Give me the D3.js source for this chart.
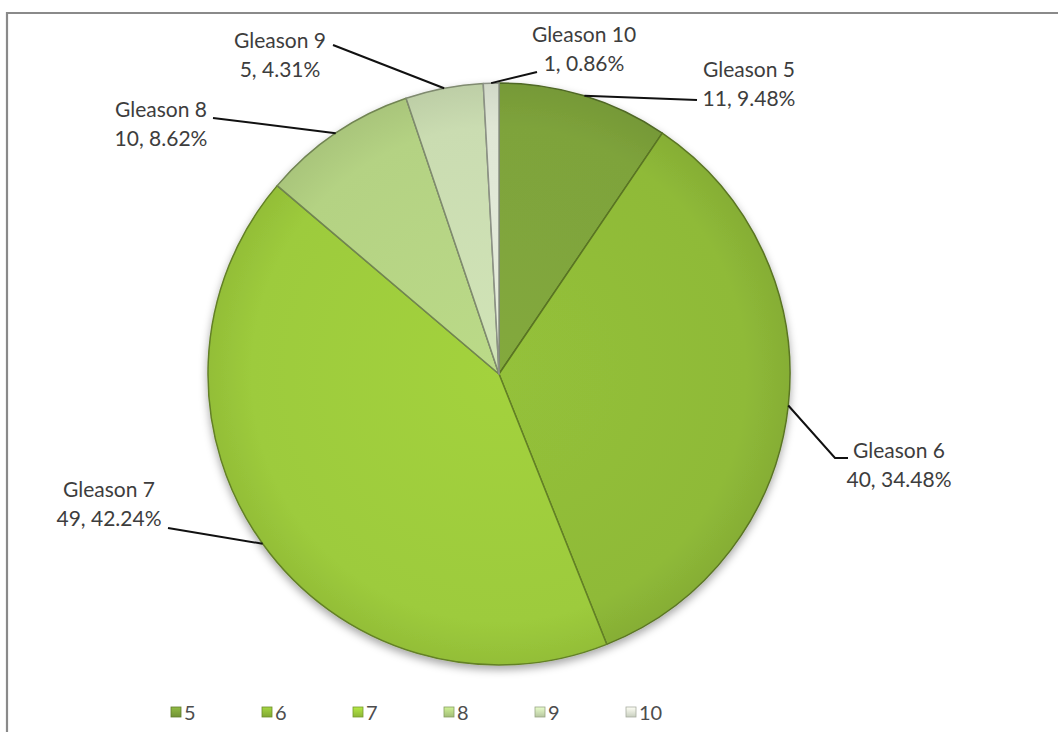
<!DOCTYPE html>
<html>
<head>
<meta charset="utf-8">
<script src="https://cdn.jsdelivr.net/npm/d3@7"></script>
<style>
  html, body { margin: 0; padding: 0; background: #ffffff; }
  svg { display: block; }
  text { font-family: Lato, "Open Sans", sans-serif; }
</style>
</head>
<body>
<svg id="chart" width="1058" height="732"></svg>
<script>
// ---- data ----
const categories = ["5", "6", "7", "8", "9", "10"];
const counts = [11, 40, 49, 10, 5, 1];
const sliceColors = ["#7ea33b", "#8fba38", "#9dcb3c", "#b4d283", "#cadcb1", "#dfe6d5"];
const legendLabels = ["5", "6", "7", "8", "9", "10"];

// ---- layout ----
const W = 1058, H = 732;
const cx = 499, cy = 374, R = 291;
// label placement (relative to pie center): leader path end points and text anchor
const labelLayout = {
  "5":  { pts: [[198, -274]], tx: 250, ty: -297, anchor: "middle" },
  "6":  { pts: [[336, 84], [349, 84]], tx: 400, ty: 84, anchor: "middle" },
  "7":  { pts: [[-331, 154]], tx: -390, ty: 123, anchor: "middle" },
  "8":  { pts: [[-286, -256]], tx: -338, ty: -257, anchor: "middle" },
  "9":  { pts: [[-166, -329]], tx: -219, ty: -326, anchor: "middle" },
  "10": { pts: [[38, -302]], tx: 85, ty: -332, anchor: "middle" }
};

const svg = d3.select("#chart");
const defs = svg.append("defs");
const f = defs.append("filter").attr("id", "shadow")
  .attr("x", "-10%").attr("y", "-10%").attr("width", "120%").attr("height", "125%");
f.append("feDropShadow").attr("dx", 0).attr("dy", 4).attr("stdDeviation", 4)
  .attr("flood-color", "#000").attr("flood-opacity", 0.35);

// frame
svg.append("path")
  .attr("d", `M7,${H + 2} L7,13 L${W + 2},13`)
  .attr("fill", "none").attr("stroke", "#8a8a8a").attr("stroke-width", 2.2);

const total = d3.sum(counts);
const pctFmt = d3.format(".2%");
const data = categories.map((c, i) => ({ cat: c, value: counts[i], color: sliceColors[i] }));

const pie = d3.pie().value(d => d.value).sort(null);
const arcs = pie(data);
const arcGen = d3.arc().innerRadius(0).outerRadius(R);

const g = svg.append("g").attr("transform", `translate(${cx},${cy})`);

// slice gradients
arcs.forEach((a, i) => {
  const c = d3.color(a.data.color);
  const gr = defs.append("radialGradient").attr("id", "grad" + i)
    .attr("gradientUnits", "userSpaceOnUse").attr("cx", 0).attr("cy", 0).attr("r", R);
  gr.append("stop").attr("offset", "0%").attr("stop-color", c.brighter(0.1));
  gr.append("stop").attr("offset", "85%").attr("stop-color", c);
  gr.append("stop").attr("offset", "100%").attr("stop-color", c.darker(0.18));
});

const pieG = g.append("g").attr("filter", "url(#shadow)");
pieG.selectAll("path.slice").data(arcs).enter().append("path")
  .attr("class", "slice")
  .attr("d", arcGen)
  .attr("fill", (d, i) => `url(#grad${i})`)
  .attr("stroke", (d, i) => d3.color(d.data.color).darker(1.3))
  .attr("stroke-width", 1.5)
  .attr("stroke-linejoin", "round");

// leader lines and labels
arcs.forEach(a => {
  const mid = (a.startAngle + a.endAngle) / 2;
  const p0 = [R * Math.sin(mid), -R * Math.cos(mid)];
  const lay = labelLayout[a.data.cat];
  const pts = [p0].concat(lay.pts);
  g.append("path")
    .attr("d", d3.line()(pts))
    .attr("fill", "none").attr("stroke", "#111").attr("stroke-width", 2);
  const t = g.append("text")
    .attr("x", lay.tx).attr("y", lay.ty)
    .attr("text-anchor", lay.anchor)
    .attr("fill", "#3d3d3d").attr("font-size", 21);
  t.append("tspan").attr("x", lay.tx).attr("dy", 0).text("Gleason " + a.data.cat);
  t.append("tspan").attr("x", lay.tx).attr("dy", 29)
    .text(a.data.value + ", " + pctFmt(a.data.value / total));
});

// legend
const legendX = d3.scalePoint().domain(legendLabels).range([176, 631]);
const lg = svg.append("g");
legendLabels.forEach((l, i) => {
  const x = legendX(l);
  const c = d3.color(sliceColors[i]);
  const lgrad = defs.append("linearGradient").attr("id", "lg" + i)
    .attr("x1", 0).attr("y1", 0).attr("x2", 0).attr("y2", 1);
  lgrad.append("stop").attr("offset", "0%").attr("stop-color", c.brighter(0.4));
  lgrad.append("stop").attr("offset", "100%").attr("stop-color", c.darker(0.3));
  lg.append("rect")
    .attr("x", x - 5).attr("y", 707).attr("width", 10).attr("height", 10)
    .attr("fill", `url(#lg${i})`).attr("stroke", c.darker(0.8)).attr("stroke-width", 0.8);
  lg.append("text")
    .attr("x", x + 8).attr("y", 720)
    .attr("fill", "#4d4d4d").attr("font-size", 20)
    .text(l);
});
</script>
</body>
</html>
